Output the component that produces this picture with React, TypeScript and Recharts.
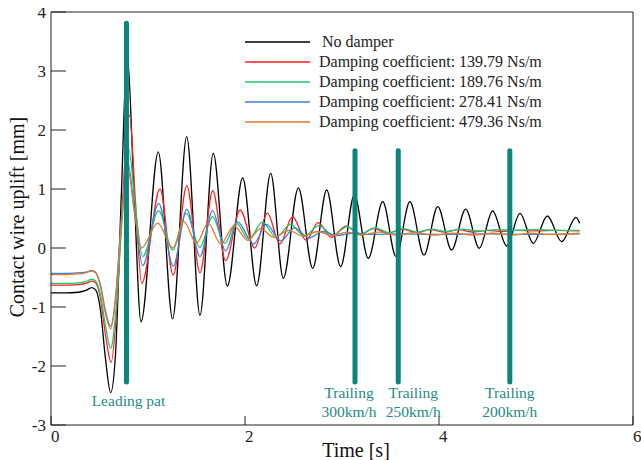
import React from "react";
import { LineChart, Line, XAxis, YAxis } from "recharts";

type P = [number, number];

// Time [s], uplift [mm]
const noDamper: P[] = [
  [0, -0.76], [0.15, -0.76], [0.28, -0.75], [0.36, -0.72], [0.42, -0.67], [0.46, -0.71],
  [0.51, -1.05], [0.56, -1.85], [0.615, -2.45], [0.665, -1.8], [0.725, 0.9], [0.785, 3.3],
  [0.855, 1.0], [0.928, -1.25], [1.106, 1.63], [1.254, -1.2], [1.399, 1.887], [1.536, -1.14],
  [1.673, 1.605], [1.818, -0.644], [1.976, 1.19], [2.12, -0.64], [2.265, 1.266], [2.395, -0.514],
  [2.55, 1.02], [2.698, -0.344], [2.842, 0.983], [2.986, -0.317], [3.127, 0.898], [3.271, -0.175],
  [3.42, 0.785], [3.557, -0.147], [3.7, 0.785], [3.845, -0.12], [3.987, 0.7], [4.13, -0.034],
  [4.275, 0.66], [4.415, -0.005], [4.553, 0.627], [4.698, 0.034], [4.835, 0.588], [4.972, 0.08],
  [5.117, 0.542], [5.265, 0.107], [5.412, 0.52], [5.45, 0.42],
];

const damp139: P[] = [
  [0, -0.63], [0.15, -0.63], [0.28, -0.62], [0.36, -0.6], [0.42, -0.56], [0.46, -0.59],
  [0.51, -0.85], [0.56, -1.45], [0.62, -1.94], [0.67, -1.2], [0.73, 0.6], [0.81, 2.25],
  [0.87, 0.8], [0.935, -0.6], [1.124, 1.0], [1.26, -0.458], [1.4, 1.056], [1.536, -0.418],
  [1.667, 0.97], [1.8, -0.215], [1.95, 0.644], [2.1, 0.0], [2.23, 0.59], [2.36, 0.07],
  [2.49, 0.53], [2.63, 0.13], [2.755, 0.43], [2.89, 0.18], [3.04, 0.37], [3.19, 0.23],
  [3.32, 0.33], [3.48, 0.25], [3.62, 0.32], [3.77, 0.26], [3.91, 0.31], [4.06, 0.27],
  [4.2, 0.31], [4.35, 0.27], [4.5, 0.3], [4.65, 0.28], [4.8, 0.3], [5.0, 0.29], [5.2, 0.3], [5.45, 0.29],
];

const damp189: P[] = [
  [0, -0.6], [0.15, -0.6], [0.28, -0.59], [0.36, -0.57], [0.42, -0.53], [0.46, -0.56],
  [0.51, -0.8], [0.56, -1.3], [0.615, -1.7], [0.67, -1.05], [0.73, 0.4], [0.8, 1.69],
  [0.87, 0.7], [0.945, -0.147], [1.11, 0.632], [1.255, -0.034], [1.395, 0.588], [1.535, 0.012],
  [1.665, 0.53], [1.79, 0.08], [1.91, 0.42], [2.04, 0.15], [2.18, 0.44], [2.32, 0.18],
  [2.47, 0.4], [2.61, 0.2], [2.76, 0.38], [2.91, 0.22], [3.05, 0.36], [3.2, 0.24],
  [3.34, 0.34], [3.49, 0.26], [3.63, 0.33], [3.78, 0.27], [3.92, 0.32], [4.07, 0.28],
  [4.22, 0.32], [4.4, 0.29], [4.6, 0.31], [4.8, 0.3], [5.0, 0.31], [5.2, 0.3], [5.45, 0.3],
];

const damp278: P[] = [
  [0, -0.43], [0.15, -0.43], [0.28, -0.42], [0.36, -0.41], [0.42, -0.38], [0.46, -0.41],
  [0.51, -0.63], [0.56, -1.05], [0.615, -1.33], [0.67, -0.75], [0.72, 0.4], [0.79, 1.46],
  [0.87, 0.5], [0.945, -0.3], [1.11, 0.758], [1.26, -0.305], [1.4, 0.656], [1.536, -0.147],
  [1.665, 0.632], [1.8, -0.05], [1.92, 0.446], [2.09, 0.07], [2.22, 0.4], [2.37, 0.12],
  [2.51, 0.34], [2.66, 0.17], [2.8, 0.28], [2.95, 0.21], [3.1, 0.25], [3.3, 0.23],
  [3.6, 0.24], [4.0, 0.23], [4.5, 0.24], [5.0, 0.23], [5.45, 0.24],
];

const damp479: P[] = [
  [0, -0.45], [0.15, -0.45], [0.28, -0.44], [0.36, -0.42], [0.42, -0.39], [0.46, -0.42],
  [0.51, -0.65], [0.56, -1.1], [0.615, -1.37], [0.67, -0.8], [0.72, 0.3], [0.79, 1.35],
  [0.86, 0.6], [0.935, 0.0], [1.1, 0.42], [1.255, 0.0], [1.37, 0.446], [1.5, 0.08],
  [1.62, 0.42], [1.75, 0.07], [1.886, 0.373], [2.03, 0.13], [2.16, 0.33], [2.3, 0.18],
  [2.45, 0.3], [2.6, 0.2], [2.75, 0.28], [2.9, 0.21], [3.05, 0.27], [3.2, 0.22],
  [3.38, 0.27], [3.56, 0.22], [3.75, 0.26], [3.95, 0.22], [4.15, 0.25], [4.35, 0.22],
  [4.55, 0.25], [4.75, 0.22], [4.95, 0.25], [5.15, 0.23], [5.45, 0.25],
];

const seriesNames = [
  "No damper",
  "Damping coefficient: 139.79 Ns/m",
  "Damping coefficient: 189.76 Ns/m",
  "Damping coefficient: 278.41 Ns/m",
  "Damping coefficient: 479.36 Ns/m",
];
const seriesData = [noDamper, damp139, damp189, damp278, damp479];

// pantograph markers
const barTimes = [0.778, 3.134, 3.58, 4.73];
const barBottoms = [-2.27, -2.27, -2.27, -2.27];
const barTops = [3.81, 1.65, 1.65, 1.65];
const barLabels = [["Leading pat"], ["Trailing", "300km/h"], ["Trailing", "250km/h"], ["Trailing", "200km/h"]];

const xTicks = [0, 2, 4, 6];
const yTicks = [-3, -2, -1, 0, 1, 2, 3, 4];

// styles
const SERIF = "'Liberation Serif', 'Times New Roman', serif";
const seriesColors = ["#000000", "#ff2020", "#1cc76b", "#3b82d6", "#e2792e"];
const BAR_COLOR = "#0b857c";
const BAR_TEXT = "#1f8a85";
const AXIS = "#222";
const barLabelDx = [2, -6, 15, 0];

const toPts = (arr: P[]) => arr.map(([t, v]) => ({ t, v }));

const makeBarLabel = (i: number) => (props: any) => {
  if (props.index !== 0) return null;
  const x = props.x ?? props.viewBox?.x;
  const y = props.y ?? props.viewBox?.y;
  if (x == null || y == null) return null;
  const lines = barLabels[i];
  const dys = lines.length === 1 ? [24] : [16.5, 35.5];
  return (
    <g>
      {lines.map((s, k) => (
        <text
          key={k}
          x={x + barLabelDx[i]}
          y={y + dys[k]}
          textAnchor="middle"
          fill={BAR_TEXT}
          fontSize={15.5}
          fontFamily={SERIF}
        >
          {s}
        </text>
      ))}
    </g>
  );
};

export default function App() {
  return (
    <div style={{ position: "relative", width: 641, height: 460, overflow: "hidden", fontFamily: SERIF }}>
      <style>{"html,body{margin:0;padding:0;overflow:hidden;}"}</style>
      <div style={{ position: "absolute", left: 8, top: 8, width: 633, height: 452 }}>
        <LineChart width={633} height={452} margin={{ top: 0, right: 0, bottom: 0, left: 0 }}>
          <XAxis
            xAxisId="b"
            type="number"
            dataKey="t"
            domain={[0, 6]}
            ticks={xTicks}
            interval={0}
            height={35}
            tickSize={-9}
            tickMargin={14}
            stroke={AXIS}
            tick={{ fill: AXIS, fontSize: 17, fontFamily: SERIF, textAnchor: "start" }}
            allowDataOverflow
          />
          <XAxis
            xAxisId="top"
            orientation="top"
            type="number"
            dataKey="t"
            domain={[0, 6]}
            ticks={xTicks}
            interval={0}
            height={4}
            tickSize={-9}
            tick={false}
            stroke={AXIS}
            allowDataOverflow
          />
          <YAxis
            yAxisId="l"
            type="number"
            domain={[-3, 4]}
            ticks={yTicks}
            interval={0}
            width={43}
            tickSize={-15}
            tickMargin={20}
            stroke={AXIS}
            tick={{ fill: AXIS, fontSize: 17, fontFamily: SERIF }}
            allowDataOverflow
          />
          <YAxis
            yAxisId="r"
            orientation="right"
            type="number"
            domain={[-3, 4]}
            ticks={yTicks}
            interval={0}
            width={8}
            tickSize={-15}
            tick={false}
            stroke={AXIS}
            allowDataOverflow
          />
          {seriesData.map((d, i) => (
            <Line
              key={seriesNames[i]}
              name={seriesNames[i]}
              data={toPts(d)}
              dataKey="v"
              xAxisId="b"
              yAxisId="l"
              type="monotone"
              stroke={seriesColors[i]}
              strokeWidth={1.3}
              dot={false}
              activeDot={false}
              isAnimationActive={false}
            />
          ))}
          {barTimes.map((t, i) => (
            <Line
              key={"bar" + i}
              data={[{ t, v: barBottoms[i] }, { t, v: barTops[i] }]}
              dataKey="v"
              xAxisId="b"
              yAxisId="l"
              type="linear"
              stroke={BAR_COLOR}
              strokeWidth={5}
              strokeLinecap="round"
              dot={false}
              activeDot={false}
              isAnimationActive={false}
              label={makeBarLabel(i)}
            />
          ))}
        </LineChart>

        {/* legend */}
        <div style={{ position: "absolute", left: 237, top: 23.7, fontSize: 16, color: "#222" }}>
          {seriesNames.map((n, i) => (
            <div key={n} style={{ display: "flex", alignItems: "center", height: 20, whiteSpace: "nowrap" }}>
              <svg width={65} height={4} style={{ marginRight: i === 0 ? 12 : 9, flex: "none", display: "block" }}>
                <line x1={0} y1={2} x2={65} y2={2} stroke={seriesColors[i]} strokeWidth={1.5} />
              </svg>
              <span style={{ lineHeight: "20px" }}>{n}</span>
            </div>
          ))}
        </div>

        {/* axis titles */}
        <div
          style={{
            position: "absolute",
            left: 9,
            top: 209,
            transform: "translate(-50%, -50%) rotate(-90deg)",
            whiteSpace: "nowrap",
            fontSize: 20,
            color: "#111",
          }}
        >
          Contact wire uplift [mm]
        </div>
        <div
          style={{
            position: "absolute",
            left: 348,
            top: 442,
            transform: "translate(-50%, -50%)",
            whiteSpace: "nowrap",
            fontSize: 20,
            color: "#111",
          }}
        >
          Time [s]
        </div>
      </div>
    </div>
  );
}
